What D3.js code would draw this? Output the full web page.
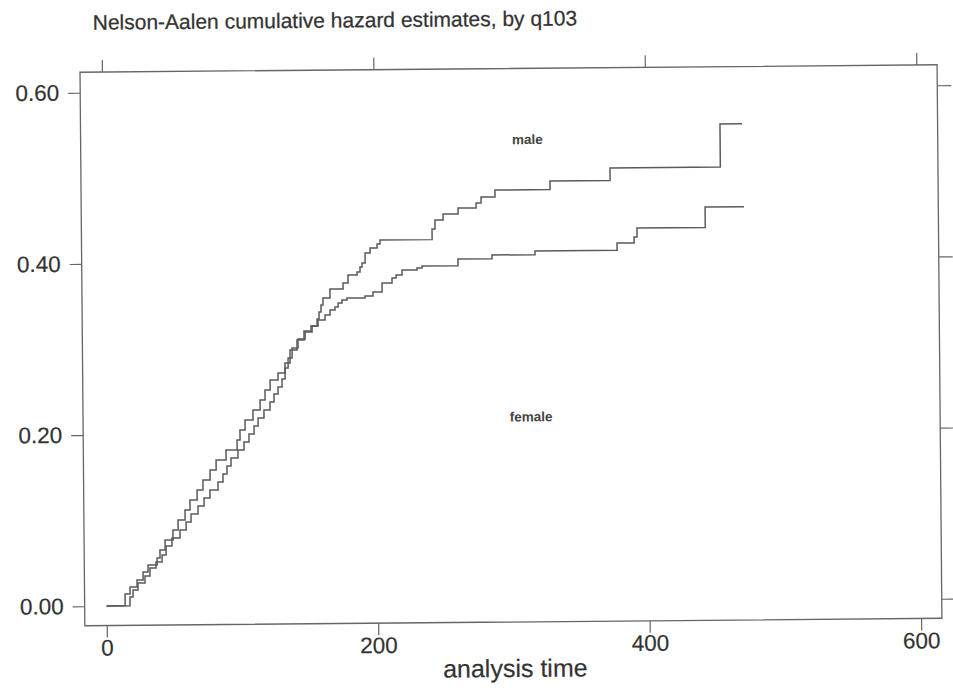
<!DOCTYPE html>
<html>
<head>
<meta charset="utf-8">
<script src="https://cdn.jsdelivr.net/npm/d3@7"></script>
<style>
  html, body { margin: 0; padding: 0; background: #ffffff; }
  svg { display: block; }
  text { font-family: "Liberation Sans", Arial, sans-serif; }
</style>
</head>
<body>
<svg id="chart" width="953" height="690"></svg>
<script>
// ---------- data ----------
const chartTitle = "Nelson-Aalen cumulative hazard estimates, by q103";
const xAxisTitle = "analysis time";
const xTicks = [0, 200, 400, 600];
const yTicks = [0, 0.2, 0.4, 0.6];
const groupNames = ["male", "female"];

const maleTimes = [0, 17.3, 19.6, 23.3, 28.5, 32.2, 36.7, 41.2, 44.2, 48.6, 54.6, 59.1, 62.8, 68.0, 72.5, 76.9, 82.9, 86.6, 89.6, 92.6, 97.8, 102.3, 106.0, 109.8, 112.8, 117.2, 121.7, 124.7, 127.7, 130.7, 133.0, 135.3, 138.3, 142.7, 148.0, 153.2, 156.9, 158.4, 159.9, 161.4, 166.6, 176.3, 180.0, 186.7, 188.9, 190.4, 192.7, 196.4, 201.6, 203.8, 242.2, 244.4, 250.4, 261.5, 274.8, 278.5, 288.8, 329.4, 373.7, 455.0, 471.3];
const maleHazard = [0, 0.0103, 0.0185, 0.0266, 0.0347, 0.0440, 0.0509, 0.0590, 0.0695, 0.0788, 0.0881, 0.0974, 0.1066, 0.1159, 0.1252, 0.1345, 0.1438, 0.1530, 0.1624, 0.1717, 0.1809, 0.1902, 0.1995, 0.2088, 0.2181, 0.2274, 0.2367, 0.2460, 0.2541, 0.2634, 0.2763, 0.2879, 0.2995, 0.3100, 0.3181, 0.3250, 0.3332, 0.3413, 0.3495, 0.3576, 0.3681, 0.3750, 0.3842, 0.3877, 0.3935, 0.3981, 0.4098, 0.4156, 0.4202, 0.4248, 0.4371, 0.4476, 0.4545, 0.4614, 0.4671, 0.4740, 0.4821, 0.4920, 0.5066, 0.5569, 0.5569];

const femaleTimes = [0, 13.7, 17.4, 22.6, 27.1, 30.8, 37.5, 39.7, 43.5, 49.4, 53.2, 58.4, 62.1, 67.4, 71.8, 77.1, 81.6, 89.0, 97.2, 99.4, 103.2, 109.1, 114.4, 118.1, 121.9, 127.8, 133.0, 136.8, 142.0, 147.2, 152.4, 157.6, 162.8, 166.5, 170.2, 172.5, 175.4, 179.1, 192.4, 198.3, 205.0, 212.4, 215.4, 219.8, 230.9, 234.6, 261.1, 286.2, 317.9, 378.4, 391.0, 393.2, 443.5, 472.2];
const femaleHazard = [0, 0.0139, 0.0220, 0.0301, 0.0394, 0.0475, 0.0556, 0.0649, 0.0765, 0.0881, 0.0998, 0.1114, 0.1230, 0.1346, 0.1462, 0.1579, 0.1695, 0.1811, 0.1926, 0.2043, 0.2159, 0.2275, 0.2391, 0.2508, 0.2624, 0.2705, 0.2821, 0.2972, 0.3088, 0.3193, 0.3251, 0.3320, 0.3378, 0.3435, 0.3470, 0.3516, 0.3551, 0.3574, 0.3595, 0.3641, 0.3745, 0.3803, 0.3838, 0.3895, 0.3917, 0.3940, 0.4018, 0.4062, 0.4104, 0.4189, 0.4257, 0.4362, 0.4601, 0.4601];

// label anchor positions (data units)
const labelTimes = [313, 314];
const labelHazard = [0.541, 0.217];

// ---------- layout ----------
const svg = d3.select("#chart");
const frame = { left: 82.4, right: 939.5, top: 68.5, bottom: 622 };
const x = d3.scaleLinear().domain([0, 600]).range([104.3, 918.7]);
const y = d3.scaleLinear().domain([0, 0.6]).range([602.5, 89]);

const ink = "#5a5a5a";
const textInk = "#333333";

// the scanned page is slightly tilted
const g = svg.append("g").attr("transform", "rotate(-0.5, 511, 345)");

g.append("text")
  .attr("x", 95.5).attr("y", 26)
  .attr("font-size", 21).attr("fill", textInk)
  .attr("stroke", textInk).attr("stroke-width", 0.25)
  .text(chartTitle);

g.append("rect")
  .attr("x", frame.left).attr("y", frame.top)
  .attr("width", frame.right - frame.left)
  .attr("height", frame.bottom - frame.top)
  .attr("fill", "none").attr("stroke", "#666").attr("stroke-width", 1.3);

function styleAxis(sel) {
  sel.select(".domain").remove();
  sel.selectAll(".tick line").attr("stroke", "#666").attr("stroke-width", 1.2);
  sel.selectAll(".tick text").attr("fill", textInk).attr("font-size", 22.5)
     .attr("stroke", textInk).attr("stroke-width", 0.2)
     .attr("font-family", "\"Liberation Sans\", Arial, sans-serif");
}

g.append("g").attr("transform", `translate(${frame.left},0)`)
  .call(d3.axisLeft(y).tickValues(yTicks).tickFormat(d3.format(".2f")).tickSize(12).tickPadding(9))
  .call(styleAxis);

g.append("g").attr("transform", `translate(${frame.right},0)`)
  .call(d3.axisRight(y).tickValues(yTicks).tickFormat("").tickSize(14))
  .call(styleAxis);

g.append("g").attr("transform", `translate(0,${frame.bottom})`)
  .call(d3.axisBottom(x).tickValues(xTicks).tickFormat(d3.format("d")).tickSize(12).tickPadding(2))
  .call(styleAxis);

g.append("g").attr("transform", `translate(0,${frame.top})`)
  .call(d3.axisTop(x).tickValues(xTicks).tickFormat("").tickSize(12))
  .call(styleAxis);

g.append("text")
  .attr("x", (x(0) + x(600)) / 2 + 1).attr("y", 677)
  .attr("text-anchor", "middle").attr("font-size", 25).attr("fill", textInk)
  .attr("stroke", textInk).attr("stroke-width", 0.2)
  .text(xAxisTitle);

// ---------- curves ----------
const series = [
  maleTimes.map((t, i) => [t, maleHazard[i]]),
  femaleTimes.map((t, i) => [t, femaleHazard[i]])
];
const line = d3.line()
  .x(d => x(d[0])).y(d => y(d[1]))
  .curve(d3.curveStepAfter);

g.selectAll("path.curve").data(series).enter().append("path")
  .attr("class", "curve")
  .attr("d", line)
  .attr("fill", "none").attr("stroke", ink).attr("stroke-width", 1.5)
  .attr("stroke-linejoin", "miter");

g.selectAll("text.grp").data(groupNames).enter().append("text")
  .attr("class", "grp")
  .attr("x", (d, i) => x(labelTimes[i]))
  .attr("y", (d, i) => y(labelHazard[i]))
  .attr("dy", "0.35em")
  .attr("text-anchor", "middle")
  .attr("font-size", 13.5).attr("font-weight", "bold").attr("fill", "#444")
  .text(d => d);
</script>
</body>
</html>
